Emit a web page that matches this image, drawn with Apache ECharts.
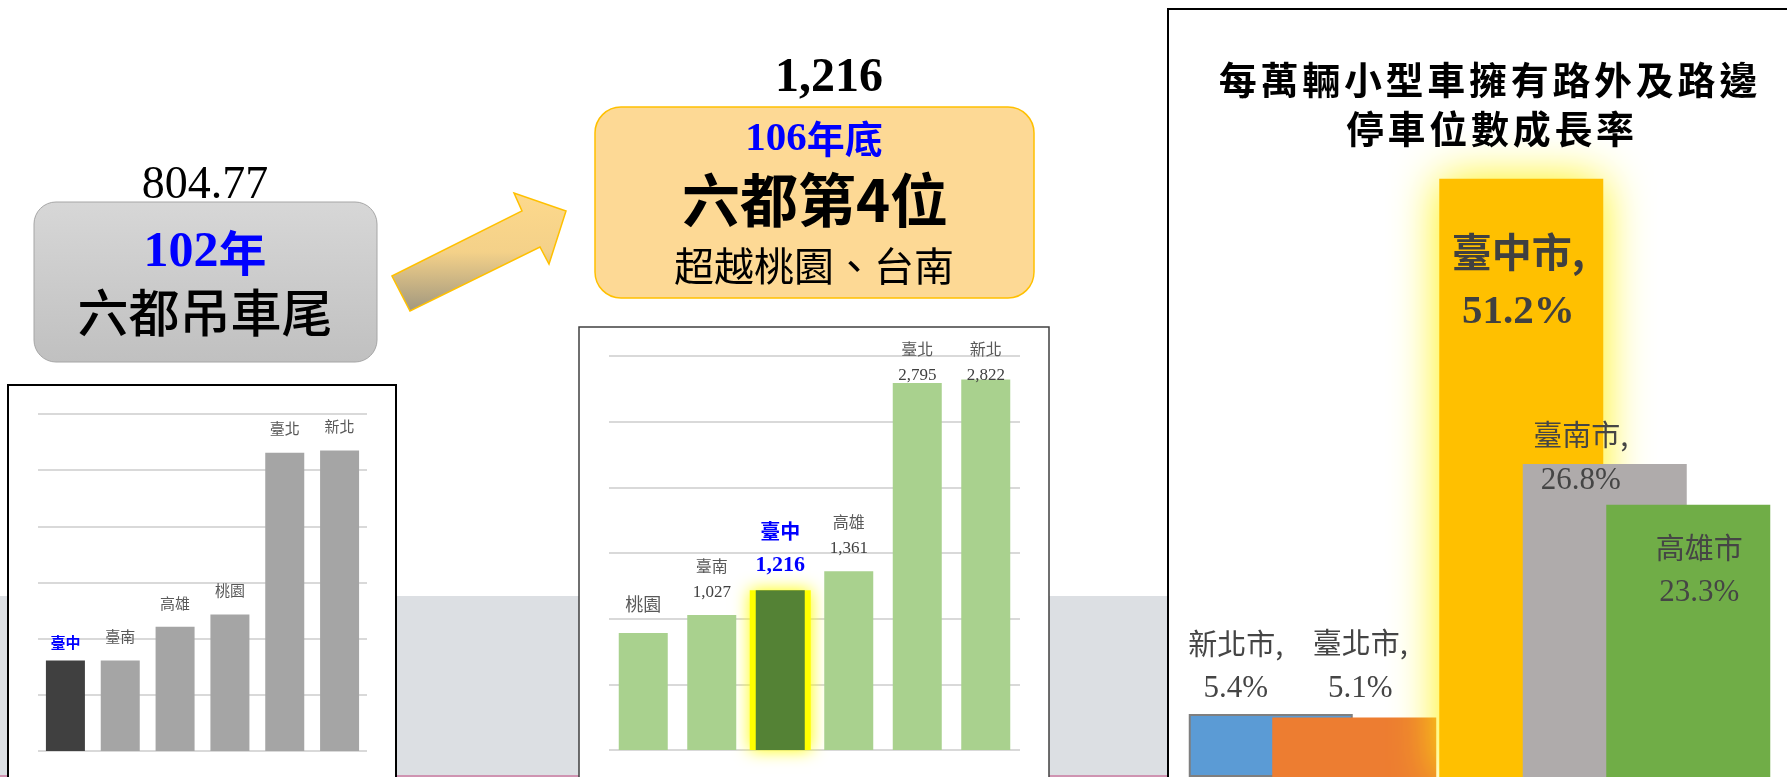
<!DOCTYPE html>
<html>
<head>
<meta charset="utf-8">
<title>停車位</title>
<script src="https://cdn.jsdelivr.net/npm/echarts@6/dist/echarts.min.js"></script>
<style>
body{margin:0;background:#fff;}
#main{width:1787px;height:777px;}
</style>
</head>
<body>
<div id="main"></div>
<script>
// 102年 每萬輛小型車停車位
var oldCities = ['臺中', '臺南', '高雄', '桃園', '臺北', '新北']
var oldValues = [805, 806, 1105, 1215, 2655, 2675]

// 106年底
var newCities = ['桃園', '臺南', '臺中', '高雄', '臺北', '新北']
var newValues = [890, 1027, 1216, 1361, 2795, 2822]

// 成長率 (空的位置是間隔)
var rateCities = ['新北市', '臺北市', '', '臺中市', '臺南市', '高雄市']
var rateValues = [5.4, 5.1, '-', 51.2, 26.8, 23.3]
var rateNames = ['新北市,', '臺北市,', '', '臺中市,', '臺南市,', '高雄市']

var titleLines = ['每萬輛小型車擁有路外及路邊', '停車位數成長率']
var yMax = 3000
var yStep = 500

var CJK = '"Noto Sans CJK TC", sans-serif'
var SERIF = '"Liberation Serif", "Times New Roman", serif'

var chart = echarts.init(document.getElementById('main'))

//千分位
function comma(v){
	return String(v).replace(/\B(?=(\d{3})+(?!\d))/g, ',')
}

// 右圖顏色與標籤位置
var rateColors = ['#5b9bd5', '#ed7d31', '#ffffff', '#ffc000', '#afabab', '#70ad47']
var rateLabel = [
	{position: 'top', distance: 2.5, offset: [-35, 0]},
	{position: 'top', distance: 6.5, offset: [6, 0]},
	{},
	{position: 'insideTop', distance: 42, offset: [-3, 0]},
	{position: 'top', distance: -39, offset: [-24, 0]},
	{position: 'insideTop', distance: 21, offset: [11, 0]}
]

var rateData = rateValues.map(function(v, i){
	var item = {
		value: v,
		itemStyle: {color: rateColors[i]},
		label: rateLabel[i]
	}
	if(rateCities[i] == '新北市'){
		item.itemStyle.borderColor = '#7f7f7f'
		item.itemStyle.borderWidth = 2
	}
	if(rateCities[i] == '臺中市'){
		item.itemStyle.shadowBlur = 45
		item.itemStyle.shadowColor = '#fff200'
	}
	return item
})

var oldData = oldValues.map(function(v, i){
	var hi = oldCities[i] == '臺中'
	return {
		value: v,
		itemStyle: {color: hi ? '#404040' : '#a5a5a5'},
		label: {distance: hi ? 9 : 15}
	}
})

var newDist = {'桃園': 16, '臺南': 9, '臺中': 8, '高雄': 9, '臺北': -6, '新北': -10}
var newData = newValues.map(function(v, i){
	return {
		value: v,
		itemStyle: {color: newCities[i] == '臺中' ? '#548235' : '#a9d18e'},
		label: {distance: newDist[newCities[i]]}
	}
})
// 臺中 黃色光暈 (另一組座標軸, 較寬的柱)
var newGlow = newValues.map(function(v, i){
	return newCities[i] == '臺中' ? v : '-'
})

// 背景、框、文字
var els = [
	{type: 'rect', z: -3, shape: {x: 0, y: 596, width: 1787, height: 179}, style: {fill: '#dcdfe3'}},
	{type: 'rect', z: -3, shape: {x: 0, y: 775, width: 1787, height: 2}, style: {fill: '#cf93b1'}},
	{type: 'rect', z: -2, shape: {x: 8, y: 385, width: 388, height: 500}, style: {fill: '#fff', stroke: '#000', lineWidth: 2}},
	{type: 'rect', z: -2, shape: {x: 579, y: 327, width: 470, height: 500}, style: {fill: '#fff', stroke: '#404040', lineWidth: 1.5}},
	{type: 'rect', z: -2, shape: {x: 1168, y: 9, width: 700, height: 900}, style: {fill: '#fff', stroke: '#000', lineWidth: 2}},
	{
		type: 'rect', z: 5,
		shape: {x: 34, y: 202, width: 343, height: 160, r: 22},
		style: {
			fill: new echarts.graphic.LinearGradient(0, 0, 0, 1, [{offset: 0, color: '#d7d7d7'}, {offset: 1, color: '#c0c0c0'}]),
			stroke: '#a6a6a6', lineWidth: 1
		}
	},
	{
		type: 'rect', z: 5,
		shape: {x: 595, y: 107, width: 439, height: 191, r: 26},
		style: {fill: '#fdd995', stroke: '#ffc000', lineWidth: 1.5}
	},
	{
		type: 'polygon', z: 5,
		shape: {points: [[392, 276], [522, 211], [514, 193], [566, 211], [549, 264], [540, 247], [410, 311]]},
		style: {
			fill: new echarts.graphic.LinearGradient(0, 0, 0, 1, [
				{offset: 0, color: '#fdd98c'}, {offset: 0.5, color: '#f4d189'}, {offset: 1, color: '#a0977f'}
			]),
			stroke: '#ffc000', lineWidth: 1.5
		}
	}
]

function txt(text, x, y, st){
	var s = {text: text, x: x, y: y, align: 'center', verticalAlign: 'middle', textAlign: 'center', textVerticalAlign: 'middle'}
	for(var k in st) s[k] = st[k]
	els.push({type: 'text', z: 10, style: s})
}

txt('804.77', 205, 186, {fontSize: 46, fontFamily: SERIF, fill: '#000'})
txt('{a|102}{b|年}', 205, 253, {rich: {
	a: {fontSize: 50, fontFamily: SERIF, fontWeight: 'bold', fill: '#0000ff'},
	b: {fontSize: 48, fontFamily: CJK, fontWeight: 'bold', fill: '#0000ff'}
}})
txt('六都吊車尾', 205, 313, {fontSize: 51, fontFamily: CJK, fontWeight: 500, fill: '#000'})
txt('1,216', 829, 79, {fontSize: 48, fontFamily: SERIF, fontWeight: 'bold', fill: '#000'})
txt('{a|106}{b|年底}', 814, 139, {rich: {
	a: {fontSize: 41, fontFamily: SERIF, fontWeight: 'bold', fill: '#0000ff'},
	b: {fontSize: 38, fontFamily: CJK, fontWeight: 'bold', fill: '#0000ff'}
}})
txt('六都第4位', 815, 200, {fontSize: 58, fontFamily: CJK, fontWeight: 'bold', fill: '#000'})
txt('超越桃園、台南', 814, 266, {fontSize: 40, fontFamily: CJK, fill: '#000'})

// 右邊標題 一字一字排 (字距較寬)
titleLines.forEach(function(line, r){
	var pitch = 41.7
	var cx = r == 0 ? 1488 : 1490
	var cy = r == 0 ? 80 : 129
	for(var i = 0; i < line.length; i++){
		txt(line[i], cx + (i - (line.length - 1) / 2) * pitch, cy, {fontSize: 38, fontFamily: CJK, fontWeight: 'bold', fill: '#000'})
	}
})

function valueAxis(idx, lines){
	return {
		gridIndex: idx, type: 'value', min: 0, max: yMax, interval: yStep, z: 1,
		axisLine: {show: false}, axisTick: {show: false}, axisLabel: {show: false},
		splitLine: {show: lines, lineStyle: {color: '#d9d9d9', width: 2}}
	}
}
function catAxis(idx, data){
	return {
		gridIndex: idx, type: 'category', data: data,
		axisLine: {show: false}, axisTick: {show: false}, axisLabel: {show: false}
	}
}

var option = {
	animation: false,
	backgroundColor: '#ffffff',
	graphic: {elements: els},
	grid: [
		{left: 38, top: 414, width: 329, height: 337},
		{left: 609, top: 356, width: 411, height: 394},
		{left: 1229, top: 76, width: 501, height: 701},
		{left: 609, top: 356, width: 411, height: 394}
	],
	xAxis: [
		catAxis(0, oldCities),
		catAxis(1, newCities),
		catAxis(2, rateCities),
		catAxis(3, newCities)
	],
	yAxis: [
		valueAxis(0, true),
		valueAxis(1, true),
		{gridIndex: 2, type: 'value', min: 0, max: 60, show: false, splitLine: {show: false}},
		valueAxis(3, false)
	],
	series: [
		{
			type: 'bar', xAxisIndex: 0, yAxisIndex: 0, barWidth: 39,
			data: oldData,
			label: {
				show: true, position: 'top',
				formatter: function(p){
					return p.name == '臺中' ? '{h|' + p.name + '}' : '{n|' + p.name + '}'
				},
				rich: {
					n: {fontSize: 15, fontFamily: CJK, color: '#595959', lineHeight: 18},
					h: {fontSize: 15, fontFamily: CJK, fontWeight: 'bold', color: '#0000ff', lineHeight: 18}
				}
			}
		},
		{
			type: 'bar', xAxisIndex: 3, yAxisIndex: 3, barWidth: 61, clip: false,
			data: newGlow,
			itemStyle: {color: '#ffff00', shadowBlur: 16, shadowColor: '#ffff00'}
		},
		{
			type: 'bar', xAxisIndex: 1, yAxisIndex: 1, barWidth: 49,
			data: newData,
			label: {
				show: true, position: 'top',
				formatter: function(p){
					if(p.name == '臺中') return '{hn|' + p.name + '}\n{hv|' + comma(p.value) + '}'
					if(p.name == '桃園') return '{t|' + p.name + '}'
					return '{n|' + p.name + '}\n{v|' + comma(p.value) + '}'
				},
				rich: {
					n: {fontSize: 16, fontFamily: CJK, color: '#595959', lineHeight: 27},
					v: {fontSize: 17, fontFamily: SERIF, color: '#404040', lineHeight: 27},
					t: {fontSize: 18, fontFamily: CJK, color: '#595959', lineHeight: 26},
					hn: {fontSize: 20, fontFamily: CJK, fontWeight: 'bold', color: '#0000ff', lineHeight: 34},
					hv: {fontSize: 22, fontFamily: SERIF, fontWeight: 'bold', color: '#0000ff', lineHeight: 34}
				}
			}
		},
		{
			type: 'bar', xAxisIndex: 2, yAxisIndex: 2, barWidth: 164, clip: false,
			data: rateData,
			label: {
				show: true,
				formatter: function(p){
					var nm = rateNames[p.dataIndex]
					if(rateCities[p.dataIndex] == '臺中市') return '{hn|' + nm + '}\n{hv|' + p.value + '%}'
					return '{n|' + nm + '}\n{v|' + p.value + '%}'
				},
				rich: {
					n: {fontSize: 29, fontFamily: CJK, color: '#454545', lineHeight: 45},
					v: {fontSize: 31, fontFamily: SERIF, color: '#454545', lineHeight: 45},
					hn: {fontSize: 40, fontFamily: CJK, fontWeight: 'bold', color: '#404040', lineHeight: 61},
					hv: {fontSize: 41, fontFamily: SERIF, fontWeight: 'bold', color: '#404040', lineHeight: 61}
				}
			}
		}
	]
}
chart.setOption(option)
</script>
</body>
</html>
